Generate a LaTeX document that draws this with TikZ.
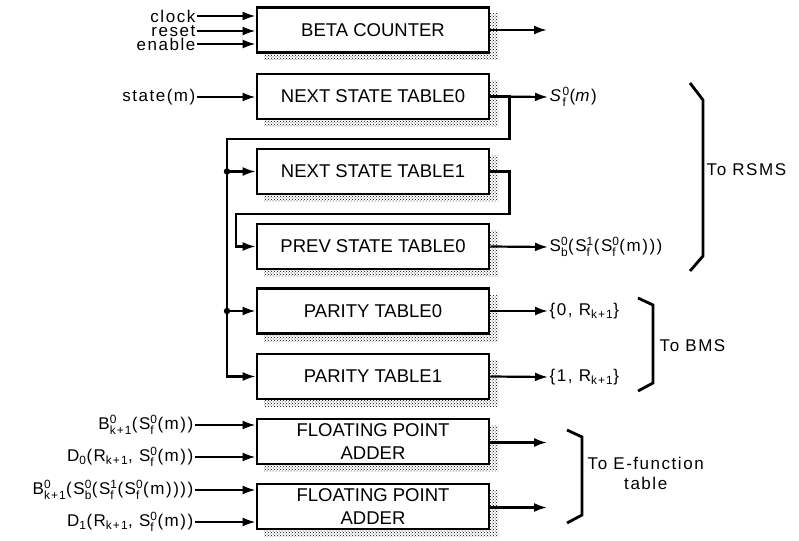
\documentclass[tikz,border=0pt]{standalone}
\usepackage{amsmath}
\usepackage{fontspec}
\setmainfont{Liberation Sans}
\newfontfamily\lblfont{Liberation Sans}[LetterSpace=9]
\usepackage{tikz}
\usetikzlibrary{arrows.meta}
\usetikzlibrary{patterns}

% superscript over subscript, and subscript alone
\newcommand{\ssc}[2]{$^{\text{#1}}_{\text{#2}}$}
\newcommand{\sbs}[1]{$_{\text{#1}}$}

\begin{document}
\begin{tikzpicture}[x=1pt,y=1pt,
    blk/.style={draw, fill=white, line width=2.8pt, minimum width=232pt,
      minimum height=45pt, align=center, font=\fontsize{18.5}{23}\selectfont},
    boxshadow/.style={pattern=crosshatch dots, pattern color=black},
    lbl/.style={font=\lblfont\fontsize{17}{20}\selectfont, inner sep=1.5pt},
    wire/.style={line width=2.2pt},
    arr/.style={wire, -{Latex[length=13pt,width=9pt]}},
    brk/.style={line width=2.8pt}]
    \useasboundingbox (0,0) rectangle (799,-540);

    % shadows, drawn first so the blocks sit on them
    \foreach \y in {30,96.5,171.5,246.5,311,376.5,441.5,506.5}
      \fill[boxshadow] (264,-\y+16) rectangle (498,-\y-30);

    % blocks
    \node[blk] (beta) at (373,-30) {BETA COUNTER};
    \node[blk] (nst0) at (373,-96.5) {NEXT STATE TABLE0};
    \node[blk] (nst1) at (373,-171.5) {NEXT STATE TABLE1};
    \node[blk] (prv0) at (373,-246.5) {PREV STATE TABLE0};
    \node[blk] (par0) at (373,-311) {PARITY TABLE0};
    \node[blk] (par1) at (373,-376.5) {PARITY TABLE1};
    \node[blk] (fpa0) at (373,-441.5) {FLOATING POINT\\ADDER};
    \node[blk] (fpa1) at (373,-506.5) {FLOATING POINT\\ADDER};

    % inputs
    \node[lbl,anchor=east] (clk) at (197,-16) {clock};
    \node[lbl,anchor=east] (rst) at (197,-31) {reset};
    \node[lbl,anchor=east] (en) at (197,-44) {enable};
    \foreach \n in {clk,rst,en}
      \draw[arr] (\n.east) -- (\n.east -| beta.west);
    \node[lbl,anchor=east] (stm) at (197,-97) {state(m)};
    \draw[arr] (stm.east) -- (stm.east -| nst0.west);

    \node[lbl,anchor=east] (b0) at (195,-425) {B\ssc{0}{k+1}(S\ssc{0}{f}(m))};
    \node[lbl,anchor=east] (d0) at (195,-457) {D\sbs{0}(R\sbs{k+1}, S\ssc{0}{f}(m))};
    \node[lbl,anchor=east] (b1) at (195,-490) {B\ssc{0}{k+1}(S\ssc{0}{b}(S\ssc{1}{f}(S\ssc{0}{f}(m))))};
    \node[lbl,anchor=east] (d1) at (195,-522) {D\sbs{1}(R\sbs{k+1}, S\ssc{0}{f}(m))};
    \draw[arr] (b0.east) -- (b0.east -| fpa0.west);
    \draw[arr] (d0.east) -- (d0.east -| fpa0.west);
    \draw[arr] (b1.east) -- (b1.east -| fpa1.west);
    \draw[arr] (d1.east) -- (d1.east -| fpa1.west);

    % feedback paths
    \coordinate (bus) at (227,-139);
    \draw[arr] (nst0.east) -- ++(19,0) |- (bus) |- (par1.west);
    \foreach \n in {nst1,par0} {
      \draw[arr] (\n.west -| bus) -- (\n.west);
      \fill (\n.west -| bus) circle (3.2);
    }
    \coordinate (loop) at (236,-214);
    \draw[arr] (nst1.east) -- ++(19,0) |- (loop) |- (prv0.west);

    % outputs
    \coordinate (betaout) at (547,-30);
    \coordinate (fpaout0) at (547,-442.5);
    \coordinate (fpaout1) at (547,-507.5);
    \draw[arr] (beta.east) -- (betaout);
    \draw[arr] (fpa0.east |- fpaout0) -- (fpaout0);
    \draw[arr] (fpa1.east |- fpaout1) -- (fpaout1);

    \node[lbl,anchor=west] (o0) at (548,-97) {\textit{S}\ssc{0}{f}(\textit{m})};
    \node[lbl,anchor=west] (o1) at (548,-247) {S\ssc{0}{b}(S\ssc{1}{f}(S\ssc{0}{f}(m)))};
    \node[lbl,anchor=west] (o2) at (548,-311) {\{0, R\sbs{k+1}\}};
    \node[lbl,anchor=west] (o3) at (548,-377) {\{1, R\sbs{k+1}\}};
    \draw[arr] (nst0.east) -- (o0.west);
    \draw[arr] (prv0.east) -- (o1.west);
    \draw[arr] (par0.east) -- (o2.west);
    \draw[arr] (par1.east) -- (o3.west);

    % brackets
    \draw[brk] (690,-83) -- (703,-100) -- (703,-256) -- (690,-271);
    \node[lbl,anchor=west] (rsms) at (705,-170) {To RSMS};
    \draw[brk] (638,-298) -- (653,-305) -- (653,-383) -- (638,-391);
    \node[lbl,anchor=west] (bms) at (658,-346) {To BMS};
    \draw[brk] (567,-430) -- (582,-437) -- (582,-515) -- (567,-523);
    \node[lbl,anchor=west,align=center] (efn) at (586,-473) {To E-function\\table};
\end{tikzpicture}
\end{document}
